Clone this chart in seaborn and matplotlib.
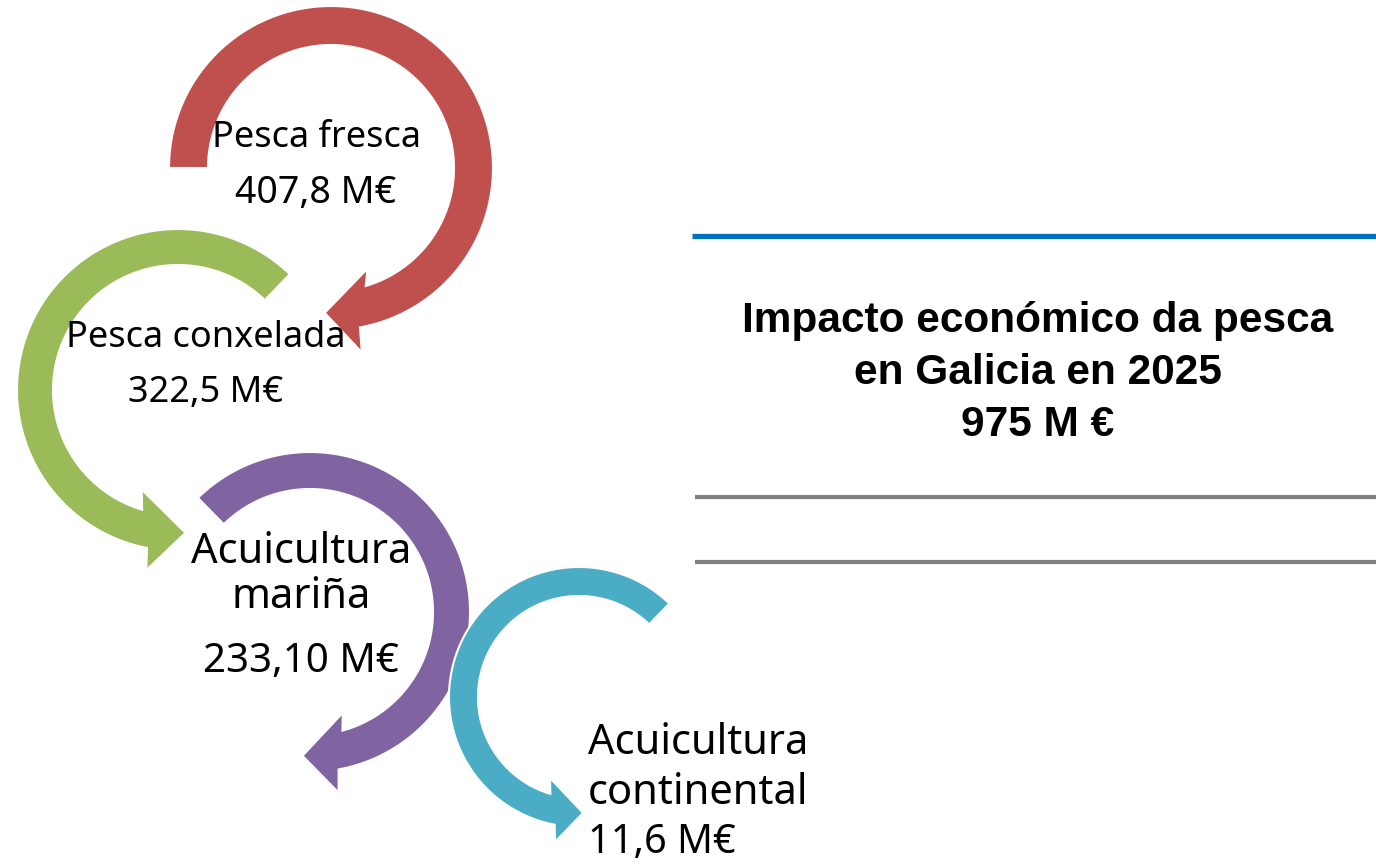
import numpy as np
import matplotlib
matplotlib.use("Agg")
import matplotlib.pyplot as plt
import seaborn as sns
from matplotlib.patches import Polygon

# ---- data ----
categories = ["Pesca fresca", "Pesca conxelada", "Acuicultura\nmariña", "Acuicultura\ncontinental"]
values = [407.8, 322.5, 233.10, 11.6]
value_labels = ["407,8", "322,5", "233,10", "11,6"]
unit = "M€"
title_lines = ["Impacto económico da pesca", "en Galicia en 2025"]
total_value = 975
total_unit = "M €"

sns.set_theme(style="white")
plt.rcParams['font.family'] = ['Noto Sans', 'DejaVu Sans']

colors = ["#C0504D", "#9BBB59", "#8064A2", "#4BACC6"]

fig = plt.figure(figsize=(13.76, 8.64), dpi=100)
ax = fig.add_axes([0, 0, 1, 1])
ax.set_xlim(0, 1376)
ax.set_ylim(864, 0)
ax.axis("off")


def pt(cx, cy, r, a):
    t = np.deg2rad(a)
    return (cx + r * np.cos(t), cy - r * np.sin(t))


def circ_arrow(cx, cy, r_out, r_in, tail, end_out, end_in,
               h_out, h_in, tip, color, z):
    # h_out/h_in: (angle, radius) of head corners; tip: (angle, radius)
    n = 120
    outer = [pt(cx, cy, r_out, a) for a in np.linspace(tail, end_out, n)]
    head = [pt(cx, cy, h_out[1], h_out[0]), pt(cx, cy, tip[1], tip[0]),
            pt(cx, cy, h_in[1], h_in[0])]
    inner = [pt(cx, cy, r_in, a) for a in np.linspace(end_in, tail, n)]
    poly = Polygon(outer + head + inner, closed=True, facecolor=color,
                   edgecolor="white", linewidth=1.5, zorder=z)
    ax.add_patch(poly)


# red (clockwise)
circ_arrow(331, 168, 162, 123, 180, -79.7, -73.6,
           (-80.5, 187), (-70, 107), (-92.5, 145), colors[0], 1)
# green (counter-clockwise)
circ_arrow(178, 390, 161, 125, 46, 258.9, 253.3,
           (260, 183), (250, 106), (273, 143), colors[1], 2)
# purple (clockwise)
circ_arrow(310, 612, 160, 123, 134.5, -79.7, -74.7,
           (-81, 183), (-72, 106), (-93, 144), colors[2], 3)
# cyan (counter-clockwise)
circ_arrow(579, 697, 130, 101, 46, 259.2, 253.5,
           (260.6, 147), (250.3, 86), (272, 116), colors[3], 4)

# ---- labels ----
def lab(x, y, s, size, ha="center"):
    ax.text(x, y, s, fontsize=size, ha=ha, va="baseline", color="black", zorder=10)

# Pesca fresca
lab(316, 147, categories[0], 26)
lab(316, 203, f"{value_labels[0]} {unit}", 27)
# Pesca conxelada
lab(206, 347, categories[1], 26)
lab(206, 402, f"{value_labels[1]} {unit}", 26)
# Acuicultura mariña
l1, l2 = categories[2].split("\n")
lab(301, 563, l1, 30)
lab(301, 608, l2, 30)
lab(301, 672, f"{value_labels[2]} {unit}", 29)
# Acuicultura continental
l1, l2 = categories[3].split("\n")
lab(588, 754, l1, 30, ha="left")
lab(588, 804, l2, 30, ha="left")
lab(588, 853, f"{value_labels[3]} {unit}", 28.5, ha="left")

# ---- right panel ----
ax.plot([692, 1376], [236, 236], color="#0070C0", lw=3.8, solid_capstyle="butt", zorder=5)
ax.plot([695, 1376], [497, 497], color="#808080", lw=3, solid_capstyle="butt", zorder=5)
ax.plot([695, 1376], [562, 562], color="#808080", lw=3, solid_capstyle="butt", zorder=5)

tl = title_lines + [f"{total_value} {total_unit}"]
for i, s in enumerate(tl):
    ax.text(1038, 332 + 52 * i, s, fontsize=30.5, fontweight="bold",
            family=["Liberation Sans", "DejaVu Sans"], ha="center", va="baseline",
            color="black", zorder=10)

fig.savefig("out.png", dpi=100)
